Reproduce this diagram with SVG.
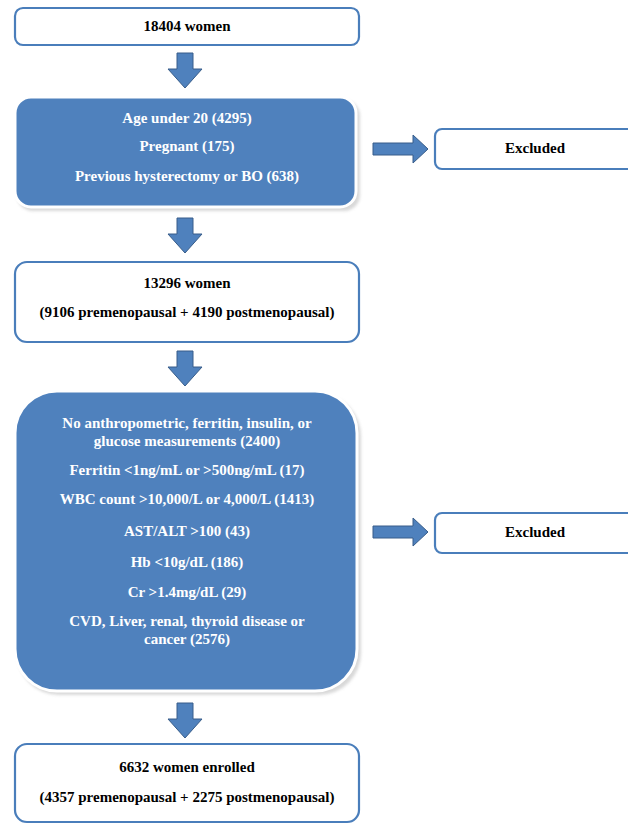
<svg xmlns="http://www.w3.org/2000/svg" width="628" height="824" viewBox="0 0 628 824">
<defs>
<style>
.wbox{fill:#ffffff;stroke:#4a7ebb;stroke-width:2.2}
.bbox{fill:#4f81bd;stroke:#ffffff;stroke-width:3}
.sh{fill:#c8c8c8;opacity:0.7}
.arr{fill:#4f81bd;stroke:#385d8a;stroke-width:1}
.t{font-family:"Liberation Serif","Times New Roman",serif;font-weight:bold;font-size:15px;text-anchor:middle}
.dk{fill:#000000}
.lt{fill:#ffffff}
</style>
<filter id="blur" x="-10%" y="-10%" width="120%" height="120%"><feGaussianBlur stdDeviation="1.5"/></filter>
</defs>
<rect width="628" height="824" fill="#ffffff"/>

<g id="connectors">
<path class="arr" d="M177,53 H193 V69 H202 L185,88 L168,69 H177 Z"/>
<path class="arr" d="M177,218 H193 V234 H202 L185,253 L168,234 H177 Z"/>
<path class="arr" d="M177,351 H193 V367 H202 L185,386 L168,367 H177 Z"/>
<path class="arr" d="M177,703 H193 V719 H202 L185,738 L168,719 H177 Z"/>
<path class="arr" d="M373,143 H413 V135 L428,149 L413,163 V155 H373 Z"/>
<path class="arr" d="M373,526 H413 V518 L428,532 L413,546 V538 H373 Z"/>
</g>

<g id="n1">
<rect class="wbox" x="15" y="8" width="344" height="37" rx="8"/>
<text class="t dk" x="187" y="31">18404 women</text>
</g>

<g id="n2">
<rect class="sh" x="17" y="100" width="343" height="111" rx="16" filter="url(#blur)"/>
<rect class="bbox" x="15" y="97" width="341" height="110" rx="16"/>
<text class="t lt" x="187" y="123">Age under 20 (4295)</text>
<text class="t lt" x="187" y="151">Pregnant (175)</text>
<text class="t lt" x="187" y="181">Previous hysterectomy or BO (638)</text>
</g>

<g id="x1">
<rect class="wbox" x="435" y="129" width="200" height="40" rx="7"/>
<text class="t dk" x="535" y="153">Excluded</text>
</g>

<g id="n3">
<rect class="wbox" x="15" y="262" width="344" height="80" rx="12"/>
<text class="t dk" x="187" y="288">13296 women</text>
<text class="t dk" x="187" y="317">(9106 premenopausal + 4190 postmenopausal)</text>
</g>

<g id="n4">
<rect class="sh" x="17" y="394" width="344" height="301" rx="42" filter="url(#blur)"/>
<rect class="bbox" x="15" y="391" width="342" height="300" rx="42"/>
<text class="t lt" x="187" y="428">No anthropometric, ferritin, insulin, or</text>
<text class="t lt" x="187" y="446">glucose measurements (2400)</text>
<text class="t lt" x="187" y="475">Ferritin &lt;1ng/mL or &gt;500ng/mL (17)</text>
<text class="t lt" x="187" y="504">WBC count &gt;10,000/L or 4,000/L (1413)</text>
<text class="t lt" x="187" y="536">AST/ALT &gt;100 (43)</text>
<text class="t lt" x="187" y="567">Hb &lt;10g/dL (186)</text>
<text class="t lt" x="187" y="597">Cr &gt;1.4mg/dL (29)</text>
<text class="t lt" x="187" y="626">CVD, Liver, renal, thyroid disease or</text>
<text class="t lt" x="187" y="644">cancer (2576)</text>
</g>

<g id="x2">
<rect class="wbox" x="435" y="513" width="200" height="40" rx="7"/>
<text class="t dk" x="535" y="537">Excluded</text>
</g>

<g id="n5">
<rect class="wbox" x="15" y="744" width="344" height="78" rx="12"/>
<text class="t dk" x="187" y="772">6632 women enrolled</text>
<text class="t dk" x="187" y="802">(4357 premenopausal + 2275 postmenopausal)</text>
</g>
</svg>
